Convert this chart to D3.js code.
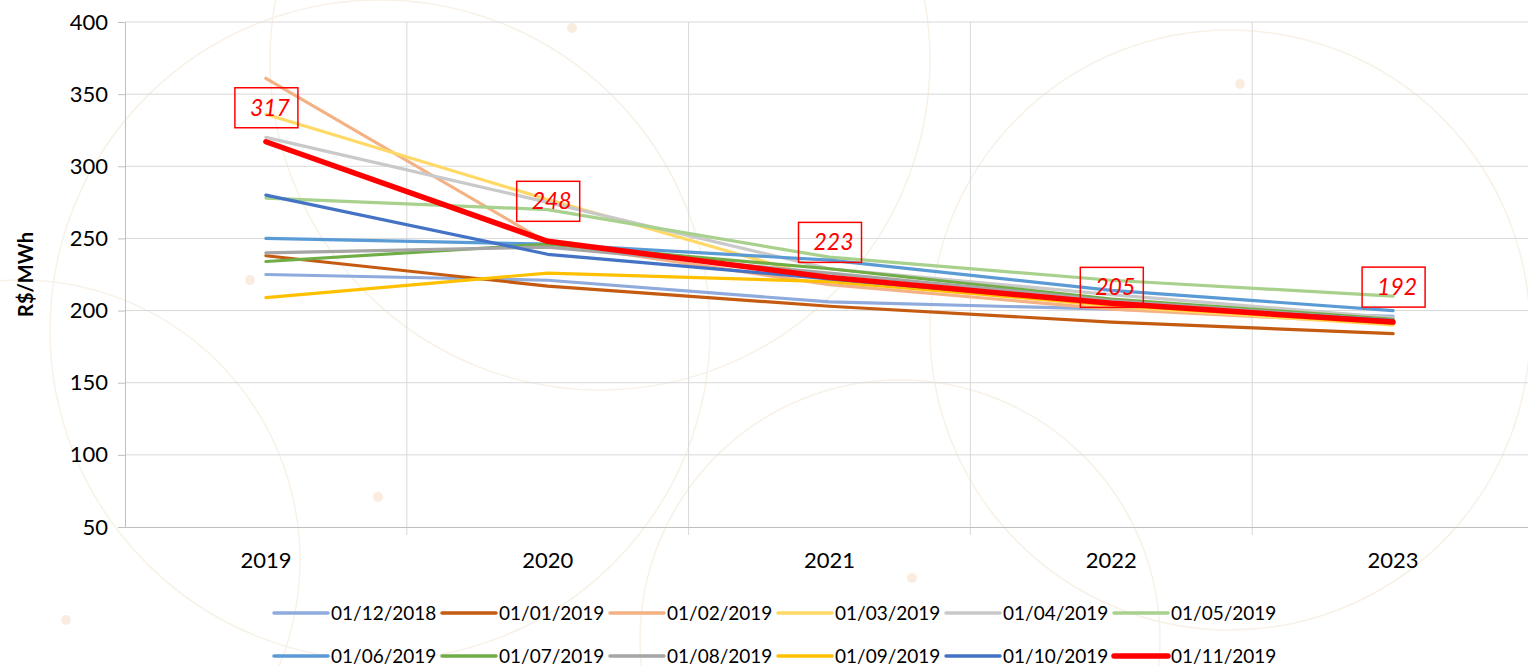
<!DOCTYPE html>
<html>
<head>
<meta charset="utf-8">
<script src="https://cdn.jsdelivr.net/npm/d3@7"></script>
<style>
  body { margin: 0; background: #fff; }
  text { font-family: Lato, "Liberation Sans", sans-serif; }
</style>
</head>
<body>
<svg width="1528" height="666"></svg>
<script>
const years = ["2019", "2020", "2021", "2022", "2023"];
const seriesNames = [
  "01/12/2018", "01/01/2019", "01/02/2019", "01/03/2019", "01/04/2019", "01/05/2019",
  "01/06/2019", "01/07/2019", "01/08/2019", "01/09/2019", "01/10/2019", "01/11/2019"
];
const s1218 = [225, 221, 206, 201, 196];
const s0119 = [238, 217, 203, 192, 184];
const s0219 = [361, 247, 218, 201, 191];
const s0319 = [336, 277, 221, 203, 190];
const s0419 = [320, 275, 229, 211, 195];
const s0519 = [278, 270, 237, 221, 210];
const s0619 = [250, 246, 235, 214, 200];
const s0719 = [234, 246, 229, 208, 194];
const s0819 = [240, 244, 226, 207, 193];
const s0919 = [209, 226, 220, 204, 191];
const s1019 = [280, 239, 222, 205, 193];
const s1119 = [317, 248, 223, 205, 192];
const seriesValues = [s1218, s0119, s0219, s0319, s0419, s0519, s0619, s0719, s0819, s0919, s1019, s1119];
const yTicks = [50, 100, 150, 200, 250, 300, 350, 400];

const colors = ["#8FAADC", "#C55A11", "#F4B183", "#FFD966", "#C9C9C9", "#A9D18E",
                "#5B9BD5", "#70AD47", "#A5A5A5", "#FFC000", "#4472C4", "#FF0000"];
const labelDy = [-34, -40, -35, -16, -35];

const svg = d3.select("svg");
const margin = { top: 22, left: 125, bottom: 139 };
const plotRight = 1534;
const height = +svg.attr("height");

// faint background decoration
const deco = svg.append("g").attr("fill", "none").attr("stroke", "#f8f1e7").attr("stroke-width", 1.5);
[[380, 330, 330], [1230, 330, 300], [900, 640, 260], [600, 60, 330], [20, 560, 280]].forEach(([cx, cy, r]) => {
  deco.append("circle").attr("cx", cx).attr("cy", cy).attr("r", r);
});
[[572, 28], [1240, 84], [378, 497], [66, 620], [912, 578], [250, 280]].forEach(([cx, cy]) => {
  svg.append("circle").attr("cx", cx).attr("cy", cy).attr("r", 5).attr("fill", "#f6dcc2").attr("opacity", 0.5);
});

const x = d3.scaleBand().domain(years).range([margin.left, plotRight]);
const y = d3.scaleLinear().domain([50, 400]).range([height - margin.bottom, margin.top]);

const g = svg.append("g");

// horizontal gridlines
g.append("g")
  .selectAll("line")
  .data(yTicks.slice(1))
  .join("line")
  .attr("x1", margin.left)
  .attr("x2", plotRight)
  .attr("y1", (d) => y(d))
  .attr("y2", (d) => y(d))
  .attr("stroke", "#d9d9d9")
  .attr("stroke-width", 1);

// vertical gridlines at band edges
g.append("g")
  .selectAll("line")
  .data(years.slice(1))
  .join("line")
  .attr("x1", (d) => x(d))
  .attr("x2", (d) => x(d))
  .attr("y1", y(400))
  .attr("y2", y(50) + 8)
  .attr("stroke", "#d9d9d9")
  .attr("stroke-width", 1);

// y axis
const yAxis = d3.axisLeft(y).tickValues(yTicks).tickSize(7).tickPadding(10);
const yAxisG = g.append("g").attr("transform", `translate(${margin.left},0)`).call(yAxis);
yAxisG.select(".domain").attr("stroke", "#bfbfbf");
yAxisG.selectAll(".tick line").attr("stroke", "#bfbfbf");
yAxisG.selectAll(".tick text")
  .attr("font-size", 22)
  .attr("fill", "#000")
  .style("font-family", "Lato, 'Liberation Sans', sans-serif");

// x axis
const xAxis = d3.axisBottom(x).tickSize(0).tickPadding(25);
const xAxisG = g.append("g").attr("transform", `translate(0,${y(50)})`).call(xAxis);
xAxisG.select(".domain").attr("stroke", "#bfbfbf");
xAxisG.selectAll(".tick text")
  .attr("font-size", 22)
  .attr("fill", "#000")
  .style("font-family", "Lato, 'Liberation Sans', sans-serif");

g.append("text")
  .attr("transform", `translate(33,${(y(50) + y(400)) / 2}) rotate(-90)`)
  .attr("text-anchor", "middle")
  .attr("font-size", 20)
  .attr("font-weight", "bold")
  .text("R$/MWh");

// lines
const line = d3.line()
  .x((d, i) => x(years[i]) + x.bandwidth() / 2)
  .y((d) => y(d));

g.append("g")
  .selectAll("path")
  .data(seriesValues)
  .join("path")
  .attr("d", line)
  .attr("fill", "none")
  .attr("stroke", (d, i) => colors[i])
  .attr("stroke-width", (d, i) => (i === 11 ? 5.5 : 3.2))
  .attr("stroke-linejoin", "round")
  .attr("stroke-linecap", "round");

// data labels for the last series
const labels = g.append("g")
  .selectAll("g")
  .data(s1119)
  .join("g")
  .attr("transform", (d, i) =>
    `translate(${x(years[i]) + x.bandwidth() / 2},${y(d) + labelDy[i]})`);
labels.append("rect")
  .attr("x", -31)
  .attr("y", -20)
  .attr("width", 63)
  .attr("height", 40)
  .attr("fill", "none")
  .attr("stroke", "#ff0000")
  .attr("stroke-width", 1.5);
labels.append("text")
  .attr("x", 4)
  .attr("y", 8)
  .attr("text-anchor", "middle")
  .attr("font-size", 23)
  .attr("font-style", "italic")
  .attr("fill", "#ff0000")
  .text((d) => d);

// legend
const legend = svg.append("g");
const items = legend.selectAll("g")
  .data(seriesNames)
  .join("g")
  .attr("transform", (d, i) => `translate(${274 + (i % 6) * 168},${613 + Math.floor(i / 6) * 43})`);
items.append("line")
  .attr("x1", 0)
  .attr("x2", 54)
  .attr("stroke", (d, i) => colors[i])
  .attr("stroke-width", (d, i) => (i === 11 ? 5.5 : 3.5))
  .attr("stroke-linecap", "round");
items.append("text")
  .attr("x", 57)
  .attr("dy", "0.35em")
  .attr("font-size", 19)
  .attr("fill", "#000")
  .text((d) => d);
</script>
</body>
</html>
